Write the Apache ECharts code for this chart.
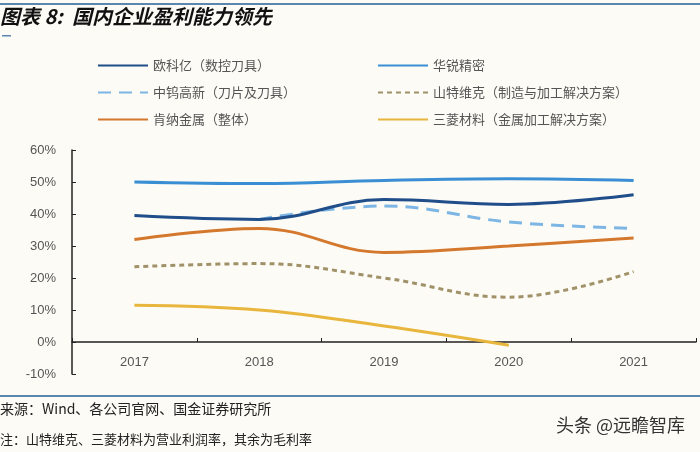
<!DOCTYPE html>
<html>
<head>
<meta charset="utf-8">
<script src="https://cdn.jsdelivr.net/npm/echarts@6/dist/echarts.min.js"></script>
<style>
html,body{margin:0;padding:0;background:#fdfbf5;}
#c{width:700px;height:452px;}
</style>
</head>
<body>
<div id="c"></div>
<script>
var categories = ['2017', '2018', '2019', '2020', '2021'];
var okeyi = [39.5, 38.3, 44.5, 43.0, 46.0];
var huarui = [50.0, 49.5, 50.5, 51.0, 50.5];
var zhongwu = [null, 38.3, 42.5, 37.5, 35.5];
var sandvik = [23.5, 24.5, 20.0, 14.0, 22.0];
var kennametal = [32.0, 35.5, 28.0, 30.0, 32.5];
var mitsubishi = [11.5, 10.0, 5.0, -1.0, null];
var yTicks = [-10, 0, 10, 20, 30, 40, 50, 60];

var CJK = '"Noto Sans CJK SC", "Noto Sans", sans-serif';
var chart = echarts.init(document.getElementById('c'));

function line(name, data, color, type, width, z) {
  return {
    name: name, type: 'line', data: data, smooth: 0.4, symbol: 'none',
    connectNulls: false, z: z,
    lineStyle: { color: color, width: width, type: type, cap: 'butt' },
    itemStyle: { color: color }
  };
}

var legendText = { color: '#555', fontSize: 13, fontFamily: CJK };

chart.setOption({
  backgroundColor: '#fdfbf5',
  animation: false,
  legend: [
    { left: 92, top: 54, orient: 'vertical', itemWidth: 50, itemHeight: 14, itemGap: 14,
      itemStyle: { opacity: 0 },
      textStyle: legendText, data: ['欧科亿（数控刀具）', '中钨高新（刀片及刀具）', '肯纳金属（整体）'] },
    { left: 372, top: 54, orient: 'vertical', itemWidth: 50, itemHeight: 14, itemGap: 14,
      itemStyle: { opacity: 0 },
      textStyle: legendText, data: ['华锐精密', '山特维克（制造与加工解决方案）', '三菱材料（金属加工解决方案）'] }
  ],
  grid: { left: 72, right: 4, top: 150, bottom: 78 },
  xAxis: {
    type: 'category', data: categories, boundaryGap: true,
    axisLine: { onZero: true, lineStyle: { color: '#222', width: 1.5 } },
    axisTick: { show: true, inside: true, length: 4, lineStyle: { color: '#222' } },
    axisLabel: { color: '#555', fontSize: 13, fontFamily: 'Liberation Sans, Arial, sans-serif', margin: -18 }
  },
  yAxis: {
    type: 'value', min: -10, max: 60, interval: 10,
    axisLine: { show: true, lineStyle: { color: '#222', width: 1.5 } },
    axisTick: { show: true, inside: true, length: 4, lineStyle: { color: '#222' } },
    splitLine: { show: false },
    axisLabel: { color: '#555', fontSize: 13, fontFamily: 'Liberation Sans, Arial, sans-serif', margin: 16,
      formatter: function (v) { return yTicks.indexOf(v) >= 0 ? v + '%' : ''; } }
  },
  series: [
    line('中钨高新（刀片及刀具）', zhongwu, '#7db6e4', [13, 8], 3, 2),
    line('欧科亿（数控刀具）', okeyi, '#1f4e8a', 'solid', 3, 3),
    line('华锐精密', huarui, '#3a8fd4', 'solid', 3, 3),
    line('山特维克（制造与加工解决方案）', sandvik, '#a09169', [5, 4], 3, 3),
    line('肯纳金属（整体）', kennametal, '#d4782e', 'solid', 3, 3),
    line('三菱材料（金属加工解决方案）', mitsubishi, '#e8b63c', 'solid', 3, 3)
  ],
  graphic: [
    { type: 'rect', shape: { x: 0, y: 3, width: 700, height: 2 }, style: { fill: '#5b86ad' } },
    { type: 'text', left: 0, top: 6, style: { text: '图表 8:  国内企业盈利能力领先', fill: '#111',
      font: 'italic bold 20px "Noto Sans CJK SC", sans-serif' } },
    { type: 'rect', shape: { x: 2, y: 35, width: 9, height: 1.5 }, style: { fill: '#5b86ad' } },
    { type: 'rect', shape: { x: 0, y: 395, width: 700, height: 2 }, style: { fill: '#5b86ad' } },
    { type: 'text', left: 0, top: 402, style: { text: '来源：Wind、各公司官网、国金证券研究所', fill: '#222',
      font: '14px "Noto Sans CJK SC", sans-serif' } },
    { type: 'text', left: 0, top: 433, style: { text: '注：山特维克、三菱材料为营业利润率，其余为毛利率', fill: '#222',
      font: '13px "Noto Sans CJK SC", sans-serif' } },
    { type: 'text', left: 556, top: 416, style: { text: '头条 @远瞻智库', fill: '#333',
      font: '18px "Noto Sans CJK SC", sans-serif' } }
  ]
});
</script>
</body>
</html>
